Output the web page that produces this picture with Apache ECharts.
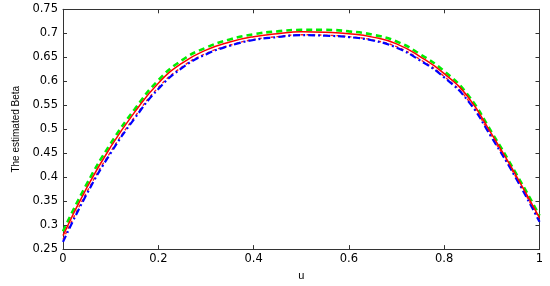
<!DOCTYPE html>
<html>
<head>
<meta charset="utf-8">
<script src="https://cdn.jsdelivr.net/npm/echarts@6/dist/echarts.min.js"></script>
<style>html,body{margin:0;padding:0;background:#fff;}#c{width:550px;height:286px;}</style>
</head>
<body>
<div id="c"></div>
<script>
var u = [0,0.05,0.1,0.15,0.2,0.25,0.3,0.35,0.4,0.45,0.5,0.55,0.6,0.65,0.7,0.75,0.8,0.85,0.9,0.95,1];
var greenDashed = [0.287,0.386,0.470,0.541,0.602,0.644,0.670,0.687,0.698,0.704,0.707,0.707,0.704,0.697,0.683,0.656,0.621,0.571,0.493,0.409,0.320];
var blueDashDot = [0.265,0.365,0.450,0.522,0.584,0.628,0.656,0.674,0.686,0.692,0.696,0.695,0.692,0.685,0.670,0.643,0.608,0.559,0.482,0.399,0.307];
var redDotted = [0.270,0.369,0.453,0.525,0.587,0.630,0.658,0.675,0.687,0.693,0.697,0.696,0.693,0.686,0.672,0.645,0.610,0.561,0.484,0.401,0.310];
var redSolid = [0.278,0.378,0.463,0.535,0.596,0.638,0.665,0.682,0.693,0.699,0.703,0.702,0.699,0.692,0.678,0.651,0.616,0.567,0.489,0.405,0.315];
var xTicks = {min:0, max:1, interval:0.2};
var yTicks = {min:0.25, max:0.75, interval:0.05};

function pairs(ys){ return u.map(function(x,i){return [x, ys[i]];}); }
var axisColor = '#333';
var font = 'DejaVu Sans';
function mkX(pos, show){
  return {type:'value', position:pos, min:xTicks.min, max:xTicks.max, interval:xTicks.interval,
    name: show ? 'u' : '', nameLocation:'middle', nameGap:14,
    nameTextStyle:{fontFamily:'Liberation Sans', fontSize:11, color:'#000'},
    axisLine:{show:true, onZero:false, lineStyle:{color:axisColor, width:1}},
    axisTick:{show:true, inside:true, length:4, lineStyle:{color:axisColor}},
    axisLabel:{show:show, margin:4, fontFamily:font, fontSize:11.5, color:'#000',
      formatter:function(v){return String(+v.toFixed(2));}},
    splitLine:{show:false}};
}
function mkY(pos, show){
  return {type:'value', position:pos, min:yTicks.min, max:yTicks.max, interval:yTicks.interval,
    name: show ? 'The estimated Beta' : '', nameLocation:'middle', nameGap:42, nameRotate:90,
    nameTextStyle:{fontFamily:'Liberation Sans', fontSize:10, color:'#000'},
    axisLine:{show:true, onZero:false, lineStyle:{color:axisColor, width:1}},
    axisTick:{show:true, inside:true, length:4, lineStyle:{color:axisColor}},
    axisLabel:{show:show, margin:5, fontFamily:font, fontSize:11.5, color:'#000',
      formatter:function(v){return String(+v.toFixed(2));}},
    splitLine:{show:false}};
}
var chart = echarts.init(document.getElementById('c'), null, {renderer:'canvas'});
chart.setOption({
  animation:false,
  backgroundColor:'#fff',
  grid:{left:63, right:10.5, top:9.3, bottom:27.8, containLabel:false},
  xAxis:[mkX('bottom', true), mkX('top', false)],
  yAxis:[mkY('left', true), mkY('right', false)],
  series:[
    {type:'line', data:pairs(greenDashed), smooth:true, showSymbol:false, symbol:'none',
      lineStyle:{color:'#00ee00', width:2.6, type:[6,4]}},
    {type:'line', data:pairs(redDotted), smooth:true, showSymbol:false, symbol:'none',
      lineStyle:{color:'#ff2020', width:1.4, type:[3,3]}},
    {type:'line', data:pairs(blueDashDot), smooth:true, showSymbol:false, symbol:'none',
      lineStyle:{color:'#0000ff', width:2.2, type:[7,3,2,3]}},
    {type:'line', data:pairs(redSolid), smooth:true, showSymbol:false, symbol:'none',
      lineStyle:{color:'#ff0000', width:1.5, type:'solid'}}
  ]
});
</script>
</body>
</html>
